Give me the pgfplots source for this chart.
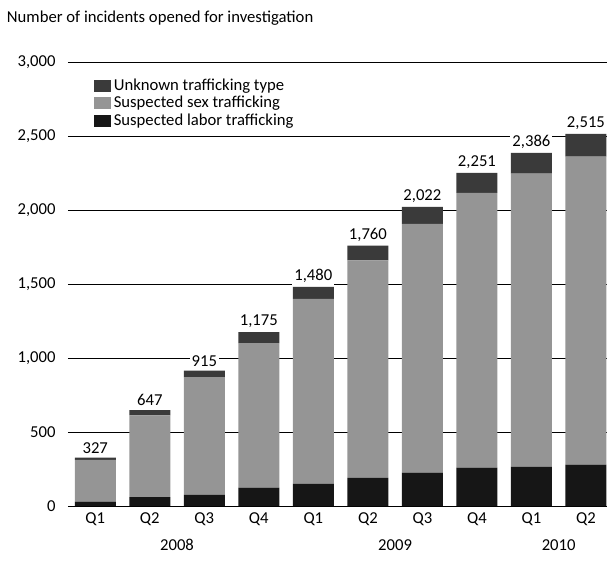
\documentclass[border=0pt]{standalone}
\usepackage{fontspec}
\setmainfont{Carlito}
\usepackage{pgfplots}
\pgfplotsset{compat=1.18}
\usepackage{pgfplotstable}
\definecolor{labor}{HTML}{161616}
\definecolor{sex}{HTML}{959595}
\definecolor{unk}{HTML}{3A3A3A}
\pgfplotstableread{
x labor sex unk tot
0 30 282 15 327
1 60 552 35 647
2 75 795 45 915
3 125 975 75 1175
4 150 1250 80 1480
5 190 1470 100 1760
6 225 1682 115 2022
7 260 1856 135 2251
8 265 1981 140 2386
9 280 2080 155 2515
}\data
\pgfplotsset{myframe/.style={
 at={(51pt,42pt)}, anchor=south west,
 width=404pt, height=333pt, scale only axis,
 xmin=-0.5, xmax=9.38, ymin=0, ymax=3000,
 /pgf/number format/assume math mode=true,
 /pgf/number format/1000 sep={,},
 clip=false,
}}
\begin{document}
\fontsize{12.5pt}{14pt}\selectfont
\begin{tikzpicture}[font=\fontsize{12.5pt}{14pt}\selectfont]
\useasboundingbox (0,0) rectangle (455.25pt,421.5pt);
\node[anchor=west, inner sep=0pt] at (5pt,408pt) {Number of incidents opened for investigation};
\begin{axis}[
 myframe,
 ybar stacked, bar width=30.75pt,
 ytick={0,500,...,3000},
 xtick={0,...,9}, xticklabels={Q1,Q2,Q3,Q4,Q1,Q2,Q3,Q4,Q1,Q2},
 ymajorgrids, grid style={black, line width=0.7pt},
 axis line style={draw=none}, major tick style={draw=none},
 tick label style={font=\fontsize{12.5pt}{14pt}\selectfont},
 yticklabel style={xshift=-5pt},
 xticklabel style={yshift=-1pt},
 reverse legend,
 legend cell align=left,
 legend style={at={(rel axis cs:0.04,0.975)}, anchor=north west, draw=none, fill=none,
   font=\fontsize{12.5pt}{13pt}\selectfont, row sep=-1.5pt},
 legend image code/.code={\fill[#1] (0pt,-4.5pt) rectangle (13pt,4.5pt);},
]
\addplot[fill=labor, draw=none] table[x=x, y=labor] {\data};
\addlegendentry{Suspected labor trafficking}
\addplot[fill=sex, draw=none] table[x=x, y=sex] {\data};
\addlegendentry{Suspected sex trafficking}
\addplot[fill=unk, draw=none] table[x=x, y=unk] {\data};
\addlegendentry{Unknown trafficking type}
\node at (axis cs:1.5,0) [yshift=-29pt] {2008};
\node at (axis cs:5.5,0) [yshift=-29pt] {2009};
\node at (axis cs:8.5,0) [yshift=-29pt] {2010};
\end{axis}
\begin{axis}[myframe, hide axis]
\addplot[draw=none, mark=none, point meta=explicit,
  nodes near coords={\pgfmathprintnumber{\pgfplotspointmeta}},
  nodes near coords style={anchor=south, inner sep=1.5pt, yshift=1.5pt, font=\fontsize{12.5pt}{14pt}\selectfont, text=black, fill=white}]
  table[x=x, y=tot, meta=tot] {\data};
\end{axis}
\end{tikzpicture}
\end{document}
